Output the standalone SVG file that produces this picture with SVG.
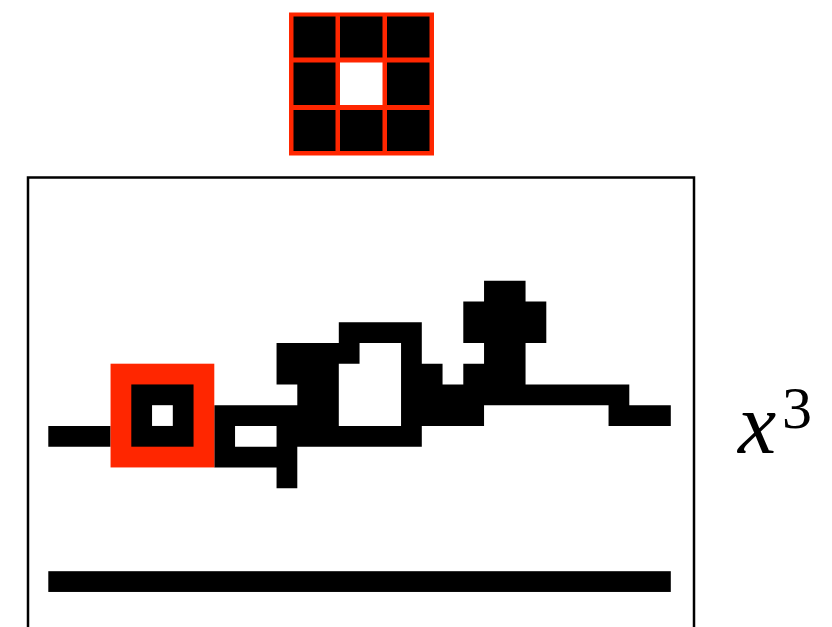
<svg xmlns="http://www.w3.org/2000/svg" width="832" height="627" viewBox="0 0 832 627">
<style>
.red{fill:#ff2600}
.blk{fill:#000}
.wht{fill:#fff}
.frame{fill:none;stroke:#000;stroke-width:2.5}
.lbl{font-family:"Liberation Serif","Times New Roman",serif;fill:#000}
</style>
<rect width="832" height="627" fill="#fff"/>
<g id="kernel">
<rect class="red" x="289" y="12.5" width="145" height="143"/>
<rect class="blk" x="293.5" y="16.5" width="42" height="41"/>
<rect class="blk" x="340" y="16.5" width="42.5" height="41"/>
<rect class="blk" x="387" y="16.5" width="42.5" height="41"/>
<rect class="blk" x="293.5" y="62.5" width="42" height="42.5"/>
<rect class="wht" x="340" y="62.5" width="42.5" height="42.5"/>
<rect class="blk" x="387" y="62.5" width="42.5" height="42.5"/>
<rect class="blk" x="293.5" y="110" width="42" height="41"/>
<rect class="blk" x="340" y="110" width="42.5" height="41"/>
<rect class="blk" x="387" y="110" width="42.5" height="41"/>
</g>
<g id="image">
<rect class="frame" x="28" y="177.5" width="666" height="460"/>
<g transform="translate(48.3 280.7) scale(20.75)">
<path class="blk" d="M21 0h2v1h-2z M20 1h4v1h-4z M14 2h4v1h-4z M20 2h4v1h-4z M11 3h4v1h-4z M17 3h1v1h-1z M21 3h2v1h-2z M11 4h3v1h-3z M17 4h2v1h-2z M20 4h3v1h-3z M12 5h2v1h-2z M17 5h11v1h-11z M8 6h6v1h-6z M17 6h4v1h-4z M27 6h3v1h-3z M0 7h3v1h-3z M8 7h1v1h-1z M11 7h7v1h-7z M8 8h4v1h-4z M11 9h1v1h-1z"/>
<g id="highlight">
<rect class="red" x="3" y="4" width="5" height="5"/>
<rect class="blk" x="4" y="5" width="3" height="3"/>
<rect class="wht" x="5" y="6" width="1" height="1"/>
</g>
<rect class="blk" x="0" y="14" width="30" height="1"/>
</g>
</g>
<g id="label">
<text class="lbl" x="738" y="453" font-size="86" font-style="italic">x<tspan x="782" y="428" font-style="normal" font-size="60">3</tspan></text>
</g>
</svg>
